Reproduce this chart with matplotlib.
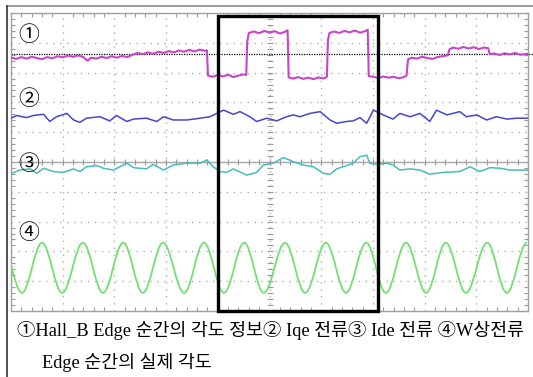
import numpy as np
import matplotlib
matplotlib.use("Agg")
import matplotlib.pyplot as plt
from matplotlib.path import Path
from matplotlib.patches import PathPatch, Rectangle
from matplotlib.lines import Line2D

# scope screen: 10 x 10 divisions, t in div (0..10), v in div (-5..5)

# ch1 - Hall_B edge angle (magenta)
ch1_t = [0.00, 0.10, 0.20, 0.30, 0.40, 0.50, 0.60, 0.70, 0.80, 0.90, 1.00, 1.10, 1.20, 1.30, 1.40,
         1.48, 1.55, 1.65, 1.75, 1.85, 1.95, 2.05, 2.15, 2.25, 2.35, 2.45, 2.55, 2.65, 2.75, 2.85,
         2.95, 3.05, 3.15, 3.25, 3.35, 3.45, 3.55, 3.65, 3.75, 3.79,
         3.81, 3.90, 4.00, 4.10, 4.20, 4.30, 4.40, 4.50, 4.55,
         4.57, 4.60, 4.70, 4.80, 4.90, 5.00, 5.10, 5.20, 5.30, 5.35,
         5.37, 5.45, 5.55, 5.65, 5.75, 5.85, 5.95, 6.05, 6.11,
         6.13, 6.16, 6.25, 6.35, 6.45, 6.55, 6.65, 6.75, 6.85, 6.90,
         6.92, 7.00, 7.10, 7.20, 7.30, 7.40, 7.50, 7.60, 7.65,
         7.68, 7.75, 7.85, 7.95, 8.05, 8.15, 8.25, 8.35, 8.45,
         8.48, 8.55, 8.65, 8.75, 8.85, 8.95, 9.05, 9.15, 9.23,
         9.26, 9.35, 9.45, 9.55, 9.65, 9.75, 9.85, 10.0]
ch1_v = [3.50, 3.46, 3.52, 3.47, 3.53, 3.49, 3.45, 3.52, 3.48, 3.55, 3.51, 3.57, 3.53, 3.58, 3.52,
         3.40, 3.50, 3.47, 3.53, 3.49, 3.55, 3.50, 3.56, 3.52, 3.60, 3.66, 3.62, 3.68, 3.63, 3.70,
         3.66, 3.72, 3.68, 3.74, 3.70, 3.76, 3.71, 3.77, 3.73, 3.75,
         2.90, 2.86, 2.92, 2.87, 2.93, 2.85, 2.90, 2.94, 2.92,
         4.05, 4.33, 4.38, 4.32, 4.40, 4.34, 4.39, 4.31, 4.37, 4.42,
         2.84, 2.80, 2.85, 2.79, 2.83, 2.78, 2.84, 2.80, 2.86,
         4.10, 4.33, 4.38, 4.33, 4.40, 4.35, 4.41, 4.34, 4.39, 4.44,
         2.88, 2.86, 2.82, 2.87, 2.83, 2.86, 2.81, 2.85, 2.90,
         3.45, 3.50, 3.47, 3.53, 3.49, 3.46, 3.52, 3.55, 3.58,
         3.78, 3.84, 3.80, 3.86, 3.81, 3.85, 3.79, 3.84, 3.82,
         3.62, 3.64, 3.59, 3.65, 3.61, 3.66, 3.60, 3.63]
ch1_ref = 3.62

# ch2 - Iqe current (blue)
ch2_t = [0.0, 0.11, 0.30, 0.43, 0.63, 0.75, 0.88, 1.08, 1.21, 1.33, 1.46, 1.72, 1.91, 2.04, 2.24,
         2.37, 2.62, 2.82, 2.95, 3.14, 3.40, 3.66, 3.85, 3.98, 4.11, 4.30, 4.43, 4.62, 4.75, 4.95,
         5.14, 5.33, 5.46, 5.59, 5.78, 5.98, 6.17, 6.30, 6.49, 6.62, 6.75, 6.88, 7.01, 7.20, 7.39,
         7.52, 7.72, 7.91, 8.10, 8.23, 8.43, 8.68, 8.81, 9.01, 9.20, 9.39, 9.59, 9.78, 10.0]
ch2_v = [1.47, 1.56, 1.49, 1.56, 1.60, 1.36, 1.52, 1.63, 1.41, 1.33, 1.47, 1.52, 1.38, 1.56, 1.36,
         1.44, 1.47, 1.36, 1.52, 1.41, 1.41, 1.47, 1.52, 1.63, 1.74, 1.60, 1.69, 1.52, 1.36, 1.47,
         1.38, 1.52, 1.58, 1.52, 1.63, 1.69, 1.41, 1.30, 1.36, 1.38, 1.49, 1.30, 1.74, 1.58, 1.44,
         1.63, 1.52, 1.63, 1.36, 1.74, 1.58, 1.69, 1.52, 1.58, 1.41, 1.52, 1.44, 1.47, 1.47]

# ch3 - Ide current (cyan)
ch3_t = [0.01, 0.17, 0.37, 0.50, 0.63, 0.82, 1.01, 1.21, 1.33, 1.46, 1.66, 1.79, 1.98, 2.24, 2.37,
         2.62, 2.75, 2.95, 3.14, 3.40, 3.66, 3.79, 3.91, 4.04, 4.17, 4.30, 4.56, 4.75, 4.88, 5.07,
         5.27, 5.46, 5.65, 5.85, 6.04, 6.17, 6.30, 6.49, 6.62, 6.75, 6.88, 6.94, 7.07, 7.27, 7.39,
         7.52, 7.72, 7.91, 8.10, 8.36, 8.68, 8.88, 9.07, 9.26, 9.46, 9.65, 9.78, 10.0]
ch3_v = [-0.38, -0.27, -0.23, -0.38, -0.21, -0.32, -0.35, -0.23, -0.32, -0.16, -0.12, -0.21, -0.27, -0.04, -0.19,
         -0.23, -0.08, -0.27, -0.10, -0.04, -0.04, 0.07, -0.16, -0.32, -0.35, -0.23, -0.44, -0.35, -0.10, -0.04,
         0.15, 0.01, -0.10, -0.16, -0.38, -0.41, -0.23, -0.12, -0.04, 0.18, 0.23, -0.04, -0.08, -0.04, -0.10,
         -0.27, -0.23, -0.27, -0.41, -0.35, -0.32, -0.16, -0.32, -0.19, -0.21, -0.27, -0.27, -0.27]

# ch4 - W phase current (green): peak / trough times and levels
ch4_ext_t = [-0.18, 0.21, 0.60, 0.99, 1.39, 1.78, 2.17, 2.55, 2.94, 3.35, 3.73, 4.12, 4.51, 4.89,
             5.30, 5.69, 6.09, 6.48, 6.87, 7.25, 7.64, 8.03, 8.41, 8.80, 9.21, 9.59, 9.98]
ch4_ext_v = [-2.71, -4.39, -2.71, -4.39, -2.71, -4.39, -2.71, -4.39, -2.71, -4.39, -2.71, -4.39, -2.71, -4.39,
             -2.71, -4.39, -2.71, -4.39, -2.71, -4.39, -2.71, -4.39, -2.71, -4.39, -2.71, -4.39, -2.71]

labels = ["\u2460", "\u2461", "\u2462", "\u2463"]
label_v = [4.26, 2.11, -0.08, -2.38]

caption1 = "\u2460Hall_B Edge 순간의 각도 정보\u2461 Iqe 전류\u2462 Ide 전류 \u2463W상전류"
caption2 = "Edge 순간의 실제 각도"

box_t = (4.0, 7.1)
box_v = (-5.0, 4.9)

W, H = 533, 377
fig = plt.figure(figsize=(W / 100, H / 100), dpi=100)
fig.patch.set_facecolor("white")
ax = fig.add_axes([11 / W, (H - 311) / H, 517 / W, 298 / H])
ax.set_xlim(0, 10)
ax.set_ylim(-5, 5)

# graticule
ax.set_xticks(np.arange(0, 11, 1))
ax.set_yticks(np.arange(-5, 6, 1))
ax.set_xticks(np.arange(0, 10.01, 0.2), minor=True)
ax.set_yticks(np.arange(-5, 5.01, 0.2), minor=True)
ax.tick_params(which="both", direction="in", top=True, right=True, labelbottom=False, labelleft=False,
               color="#9a9a9a", width=0.8)
ax.tick_params(which="major", length=0)
ax.tick_params(which="minor", length=3)
ax.grid(True, which="major", color="#b0b0b0", linestyle=(0, (1, 4)), linewidth=1.0)
for s in ax.spines.values():
    s.set_color("#a0a0a0")
    s.set_linewidth(1.0)
ax.axhline(0, color="#a8a8a8", lw=1.0, zorder=1)
cticks = np.arange(0, 10.01, 0.2)
ax.plot(cticks, np.zeros_like(cticks), ls="none", marker="|", ms=4, color="#9a9a9a", mew=0.8)
ax.plot(np.full_like(cticks, 5.0), cticks - 5, ls="none", marker="_", ms=4, color="#9a9a9a", mew=0.8)

# ch1 reference dotted line, runs off to the right edge
ax.plot([0, 10.1], [ch1_ref, ch1_ref], color="black", ls=(0, (1, 1)), lw=0.9, clip_on=False, zorder=2)

ax.plot(ch1_t, ch1_v, color="#c844c8", lw=1.5, zorder=3)
ax.plot(ch2_t, ch2_v, color="#4646cc", lw=1.1, zorder=3)
ax.plot(ch3_t, ch3_v, color="#48bcbc", lw=1.1, zorder=3)

# ch4 drawn as smooth bezier segments between the extrema
a = 1 - 2 / np.pi
verts = [(ch4_ext_t[0], ch4_ext_v[0])]
codes = [Path.MOVETO]
for i in range(1, len(ch4_ext_t)):
    t0, v0 = ch4_ext_t[i - 1], ch4_ext_v[i - 1]
    t1, v1 = ch4_ext_t[i], ch4_ext_v[i]
    w = t1 - t0
    verts += [(t0 + a * w, v0), (t1 - a * w, v1), (t1, v1)]
    codes += [Path.CURVE4] * 3
ax.add_patch(PathPatch(Path(verts, codes), fill=False, edgecolor="#72e072", lw=1.3, zorder=3))

ax.add_patch(Rectangle((box_t[0], box_v[0]), box_t[1] - box_t[0], box_v[1] - box_v[0],
                       fill=False, edgecolor="black", lw=2.4, clip_on=False, zorder=5))

for lab, v in zip(labels, label_v):
    ax.text(0.35, v, lab, fontsize=15, ha="center", va="center",
            family=["Noto Sans CJK KR", "DejaVu Sans"], zorder=6)

# outer frame of the figure
fig.add_artist(Line2D([7 / W, 1], [1 - 6 / H, 1 - 6 / H], color="#8a8a8a", lw=1.2))
fig.add_artist(Line2D([7 / W, 7 / W], [0, 1 - 6 / H], color="#333333", lw=1.2))

cap_font = ["Liberation Serif", "Noto Sans CJK KR", "DejaVu Sans"]
fig.text(17 / W, 1 - 330 / H, caption1, fontsize=13.2, ha="left", va="center", family=cap_font)
fig.text(42 / W, 1 - 363 / H, caption2, fontsize=13.2, ha="left", va="center", family=cap_font)

fig.savefig("out.png", dpi=100)
